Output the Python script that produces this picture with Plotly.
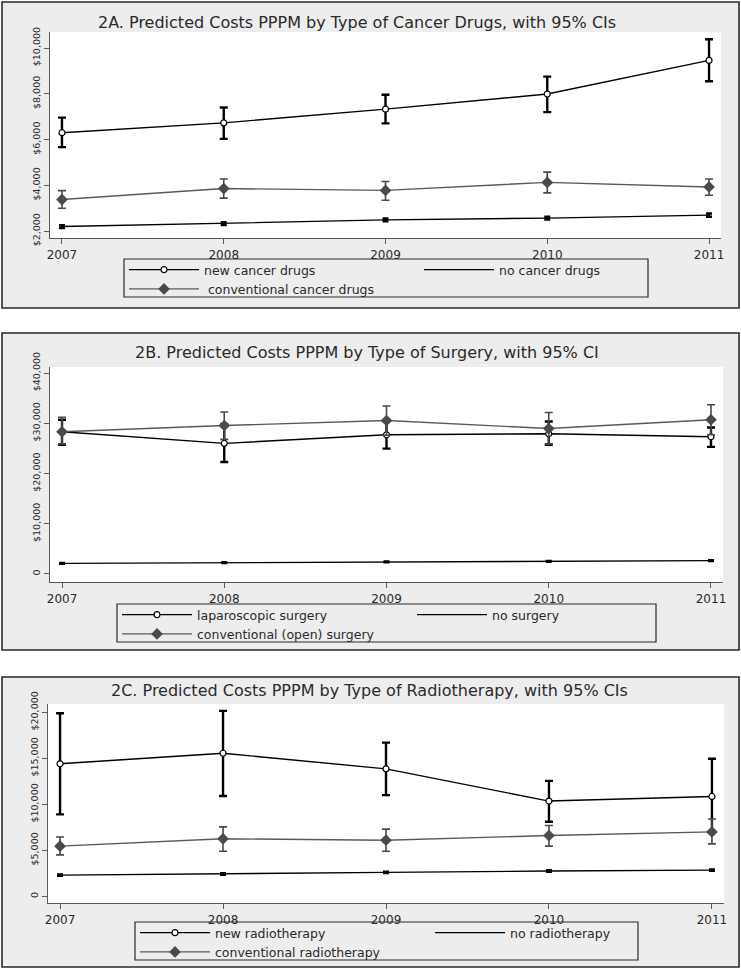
import plotly.graph_objects as go

W, H = 741, 968

years = [2007, 2008, 2009, 2010, 2011]
year_labels = ["2007", "2008", "2009", "2010", "2011"]

# 2A - cancer drugs
a_titles = ["new cancer drugs", "no cancer drugs", " conventional cancer drugs"]
a_new = [6300, 6730, 7330, 7990, 9460]
a_new_hi = [6960, 7400, 7960, 8750, 10380]
a_new_lo = [5670, 6030, 6710, 7200, 8550]
a_none = [2200, 2330, 2490, 2570, 2700]
a_none_hi = [2260, 2390, 2550, 2630, 2770]
a_none_lo = [2140, 2270, 2430, 2510, 2630]
a_conv = [3380, 3860, 3780, 4130, 3930]
a_conv_hi = [3770, 4280, 4170, 4580, 4280]
a_conv_lo = [3000, 3440, 3350, 3670, 3570]
a_ticks = [2000, 4000, 6000, 8000, 10000]
a_ticktext = ["$2,000", "$4,000", "$6,000", "$8,000", "$10,000"]

# 2B - surgery
b_titles = ["laparoscopic surgery", "no surgery", "conventional (open) surgery"]
b_new = [28300, 26000, 27700, 27900, 27300]
b_new_hi = [30700, 29800, 30400, 30350, 29150]
b_new_lo = [25700, 22300, 24950, 25700, 25300]
b_none = [2100, 2250, 2400, 2500, 2650]
b_none_hi = [2200, 2350, 2500, 2600, 2750]
b_none_lo = [2000, 2150, 2300, 2400, 2550]
b_conv = [28300, 29550, 30550, 28950, 30700]
b_conv_hi = [31200, 32250, 33450, 32150, 33700]
b_conv_lo = [25900, 26800, 27600, 25900, 27700]
b_ticks = [0, 10000, 20000, 30000, 40000]
b_ticktext = ["0", "$10,000", "$20,000", "$30,000", "$40,000"]

# 2C - radiotherapy
c_titles = ["new radiotherapy", "no radiotherapy", "conventional radiotherapy"]
c_new = [14400, 15550, 13850, 10350, 10850]
c_new_hi = [19900, 20150, 16700, 12550, 14950]
c_new_lo = [8900, 10900, 11000, 8100, 6950]
c_none = [2300, 2420, 2600, 2750, 2850]
c_none_hi = [2380, 2500, 2680, 2830, 2930]
c_none_lo = [2220, 2340, 2520, 2670, 2770]
c_conv = [5450, 6250, 6100, 6600, 7000]
c_conv_hi = [6450, 7550, 7300, 7700, 8400]
c_conv_lo = [4500, 4900, 4900, 5450, 5700]
c_ticks = [0, 5000, 10000, 15000, 20000]
c_ticktext = ["0", "$5,000", "$10,000", "$15,000", "$20,000"]

FONT = "DejaVu Sans"
PANEL_BG = "#ededed"
DARK = "#2a2a2a"
GREY = "#5a5a5a"


def px_x(v):
    return v / W


def px_y(v):
    return 1 - v / H


def err(vals, hi, lo):
    return dict(type="data", symmetric=False,
                array=[h - v for v, h in zip(vals, hi)],
                arrayminus=[v - l for v, l in zip(vals, lo)])


panels = [
    # title, title y, title x centre, panel box (y0, y1), plot box (x0, x1, y0, y1), yrange, legend box
    dict(title="2A. Predicted Costs PPPM by Type of Cancer Drugs, with 95% CIs",
         ty=23, tx=357, box=(2, 308), plot=(50, 721, 32, 238), yr=[1700, 10700],
         ticks=a_ticks, ticktext=a_ticktext, names=a_titles,
         new=(a_new, a_new_hi, a_new_lo), none=(a_none, a_none_hi, a_none_lo),
         conv=(a_conv, a_conv_hi, a_conv_lo), leg=(124, 648, 259, 297)),
    dict(title="2B. Predicted Costs PPPM by Type of Surgery, with 95% CI",
         ty=352, tx=367, box=(333, 650), plot=(50, 723, 367, 582), yr=[-1600, 41200],
         ticks=b_ticks, ticktext=b_ticktext, names=b_titles,
         new=(b_new, b_new_hi, b_new_lo), none=(b_none, b_none_hi, b_none_lo),
         conv=(b_conv, b_conv_hi, b_conv_lo), leg=(117, 656, 604, 642)),
    dict(title="2C. Predicted Costs PPPM by Type of Radiotherapy, with 95% CIs",
         ty=690, tx=369, box=(677, 967), plot=(48, 724, 704, 903), yr=[-728, 20900],
         ticks=c_ticks, ticktext=c_ticktext, names=c_titles,
         new=(c_new, c_new_hi, c_new_lo), none=(c_none, c_none_hi, c_none_lo),
         conv=(c_conv, c_conv_hi, c_conv_lo), leg=(135, 638, 922, 960)),
]

fig = go.Figure()
shapes = []
annotations = []
layout = {}

for i, p in enumerate(panels):
    n = "" if i == 0 else str(i + 1)
    xa, ya = "x" + n, "y" + n
    lg = "legend" + n

    v, hi, lo = p["new"]
    fig.add_trace(go.Scatter(
        x=years, y=v, name=p["names"][0], xaxis=xa, yaxis=ya, legend=lg,
        mode="lines+markers",
        line=dict(color="black", width=1.4),
        marker=dict(symbol="circle", size=6, color="white",
                    line=dict(color="black", width=1.2)),
        error_y=dict(err(v, hi, lo), color="black", thickness=2.4, width=4),
    ))
    v, hi, lo = p["none"]
    fig.add_trace(go.Scatter(
        x=years, y=v, name=p["names"][1], xaxis=xa, yaxis=ya, legend=lg,
        mode="lines",
        line=dict(color="black", width=1.4),
        error_y=dict(err(v, hi, lo), color="black", thickness=2.4, width=3),
    ))
    v, hi, lo = p["conv"]
    fig.add_trace(go.Scatter(
        x=years, y=v, name=p["names"][2], xaxis=xa, yaxis=ya, legend=lg,
        mode="lines+markers",
        line=dict(color=GREY, width=1.4),
        marker=dict(symbol="diamond", size=9, color="#4a4a4a"),
        error_y=dict(err(v, hi, lo), color="#4a4a4a", thickness=1.6, width=4),
    ))

    x0, x1, y0, y1 = p["plot"]
    layout["xaxis" + n] = dict(
        domain=[px_x(x0), px_x(x1)], anchor=ya, range=[2006.926, 2011.074],
        tickvals=years, ticktext=year_labels, ticks="outside", ticklen=5,
        tickcolor=GREY, showline=True, linecolor=GREY, linewidth=1.2,
        showgrid=False, zeroline=False,
        tickfont=dict(family=FONT, size=12, color=DARK),
    )
    layout["yaxis" + n] = dict(
        domain=[px_y(y1), px_y(y0)], anchor=xa, range=p["yr"],
        tickvals=p["ticks"], ticktext=p["ticktext"], tickangle=-90,
        ticks="outside", ticklen=5, tickcolor=GREY, showline=True,
        linecolor=GREY, linewidth=1.2, showgrid=False, zeroline=False,
        tickfont=dict(family=FONT, size=9.5, color=DARK),
    )

    b0, b1 = p["box"]
    shapes.append(dict(type="rect", xref="paper", yref="paper", layer="below",
                       x0=px_x(2), x1=px_x(739), y0=px_y(b1), y1=px_y(b0),
                       fillcolor=PANEL_BG, line=dict(color=DARK, width=1.6)))
    shapes.append(dict(type="rect", xref="paper", yref="paper", layer="below",
                       x0=px_x(x0), x1=px_x(x1), y0=px_y(y1), y1=px_y(y0),
                       fillcolor="white", line=dict(width=0)))
    l0, l1, m0, m1 = p["leg"]
    shapes.append(dict(type="rect", xref="paper", yref="paper", layer="below",
                       x0=px_x(l0), x1=px_x(l1), y0=px_y(m1), y1=px_y(m0),
                       fillcolor=PANEL_BG, line=dict(color=DARK, width=1.2)))

    annotations.append(dict(text=p["title"], xref="paper", yref="paper",
                            x=px_x(p["tx"]), y=px_y(p["ty"]), xanchor="center",
                            yanchor="middle", showarrow=False,
                            font=dict(family=FONT, size=16, color=DARK)))

    layout[lg] = dict(
        x=px_x(l0), y=px_y(m0 - 4), xanchor="left", yanchor="top",
        orientation="h", entrywidth=210, entrywidthmode="pixels",
        itemwidth=70, bgcolor="rgba(0,0,0,0)", borderwidth=0,
        font=dict(family=FONT, size=12.5, color=DARK),
        tracegroupgap=0,
    )

fig.update_layout(
    width=W, height=H,
    margin=dict(l=0, r=0, t=0, b=0, autoexpand=False),
    paper_bgcolor="white", plot_bgcolor="white",
    shapes=shapes, annotations=annotations, showlegend=True,
    **layout,
)

fig.write_html("out.html", config={"displayModeBar": False},
               post_script="document.body.style.margin='0px';")
